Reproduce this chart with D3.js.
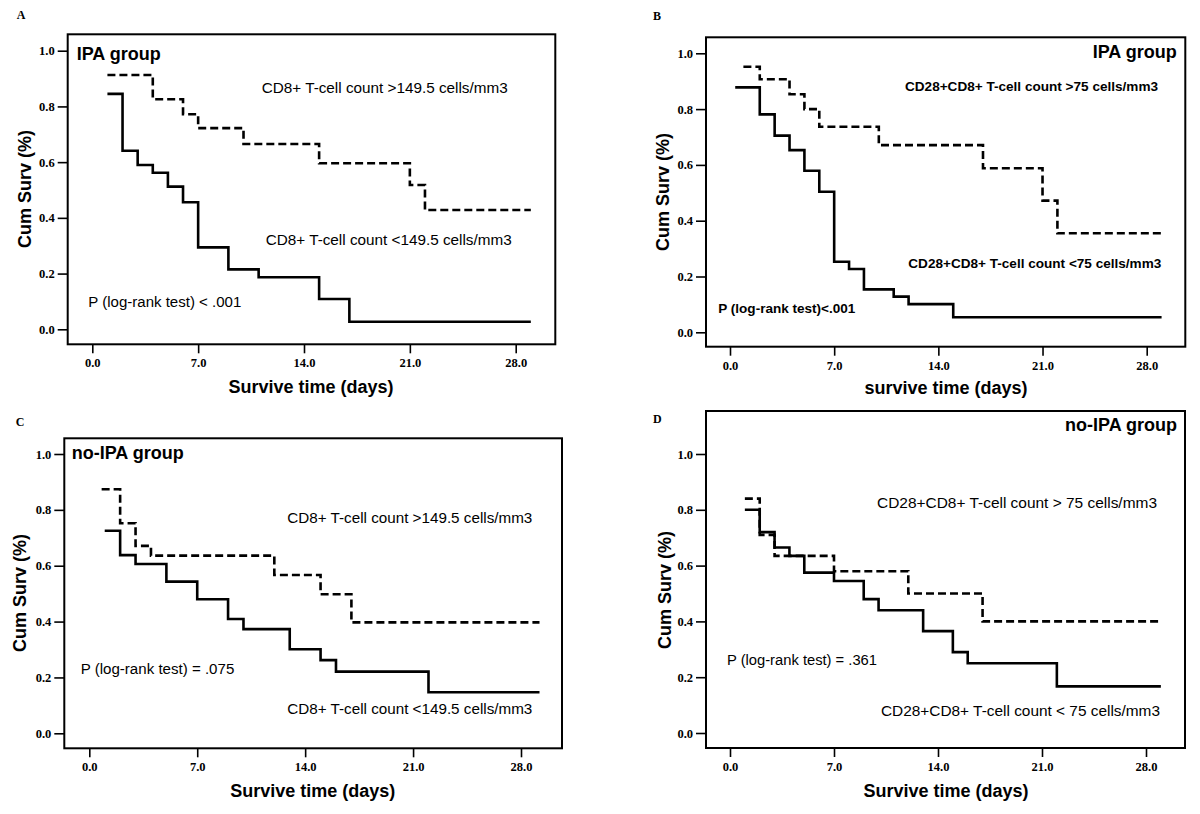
<!DOCTYPE html>
<html>
<head>
<meta charset="utf-8">
<script src="https://cdn.jsdelivr.net/npm/d3@7"></script>
<style>
  html, body { margin: 0; padding: 0; background: #fff; }
  svg { display: block; }
</style>
</head>
<body>
<svg id="chart" width="1200" height="814"></svg>
<script>
// ---------------- DATA ----------------
const xTickValues = [0, 7, 14, 21, 28];
const yTickValues = [0, 0.2, 0.4, 0.6, 0.8, 1.0];

// Panel A (IPA group, CD8+)
const aHighTime = [1, 4, 6, 7, 10, 15, 21, 22, 29];
const aHighSurv = [0.913, 0.826, 0.772, 0.722, 0.665, 0.596, 0.518, 0.428, 0.428];
const aLowTime  = [1, 2, 3, 4, 5, 6, 7, 9, 11, 15, 17, 29];
const aLowSurv  = [0.845, 0.641, 0.590, 0.562, 0.512, 0.456, 0.294, 0.215, 0.187, 0.109, 0.027, 0.027];

// Panel B (IPA group, CD28+CD8+)
const bHighTime = [0.9, 2, 4, 5, 6, 10, 17, 21, 22, 29];
const bHighSurv = [0.952, 0.907, 0.853, 0.800, 0.737, 0.671, 0.588, 0.472, 0.355, 0.355];
const bLowTime  = [0.35, 2, 3, 4, 5, 6, 7, 8, 9, 11, 12, 15, 29];
const bLowSurv  = [0.878, 0.781, 0.705, 0.653, 0.579, 0.504, 0.253, 0.227, 0.154, 0.128, 0.101, 0.054, 0.054];

// Panel C (no-IPA group, CD8+)
const cHighTime = [0.8, 2, 3, 4, 12, 15, 17, 29.2];
const cHighSurv = [0.874, 0.752, 0.671, 0.636, 0.567, 0.498, 0.397, 0.397];
const cLowTime  = [1, 2, 3, 5, 7, 9, 10, 13, 15, 16, 22, 29.2];
const cLowSurv  = [0.725, 0.638, 0.606, 0.543, 0.480, 0.409, 0.373, 0.301, 0.262, 0.221, 0.147, 0.147];

// Panel D (no-IPA group, CD28+CD8+)
const dHighTime = [1, 2, 3, 7, 12, 17, 29];
const dHighSurv = [0.84, 0.71, 0.635, 0.58, 0.50, 0.40, 0.40];
const dLowTime  = [1, 2, 3, 4, 5, 7, 9, 10, 13, 15, 16, 22, 29];
const dLowSurv  = [0.80, 0.72, 0.665, 0.635, 0.575, 0.545, 0.48, 0.44, 0.365, 0.29, 0.25, 0.167, 0.167];

// Texts
const panelLetters = ["A", "B", "C", "D"];
const groupTitles = ["IPA group", "IPA group", "no-IPA group", "no-IPA group"];
const highLabels = ["CD8+ T-cell count >149.5 cells/mm3", "CD28+CD8+ T-cell count >75 cells/mm3",
                    "CD8+ T-cell count >149.5 cells/mm3", "CD28+CD8+ T-cell count > 75 cells/mm3"];
const lowLabels  = ["CD8+ T-cell count <149.5 cells/mm3", "CD28+CD8+ T-cell count <75 cells/mm3",
                    "CD8+ T-cell count <149.5 cells/mm3", "CD28+CD8+ T-cell count < 75 cells/mm3"];
const pLabels = ["P (log-rank test) < .001", "P (log-rank test)<.001",
                 "P (log-rank test) = .075", "P (log-rank test) = .361"];
const xTitles = ["Survive time (days)", "survive time (days)", "Survive time (days)", "Survive time (days)"];
const yTitle = "Cum Surv (%)";

// ---------------- LAYOUT ----------------
const SANS = "'Liberation Sans', Arial, sans-serif";
const SERIF = "'Liberation Serif', 'Times New Roman', serif";

const panels = [
  { frame: [67.7, 34.3, 555.3, 344.3], x0: 92.3, x28: 515.7, y0: 329.3, y1: 50.7,
    letter: [16.7, 19], title: { x: 76.7, y: 60, anchor: "start" },
    hi: { x: 261.7, y: 93, w: 246 }, lo: { x: 265.7, y: 245, w: 246 }, p: { x: 88.3, y: 306.7, w: 153 },
    labelWeight: "normal", labelSize: 14,
    xt: { x: 311, y: 393 }, yt: { x: 31, y: 189 },
    high: [aHighTime, aHighSurv], low: [aLowTime, aLowSurv] },
  { frame: [706, 37.3, 1185.3, 346.7], x0: 730, x28: 1146.7, y0: 332.3, y1: 53.3,
    letter: [653, 20], title: { x: 1176.7, y: 58.3, anchor: "end" },
    hi: { x: 905, y: 90.7, w: 253 }, lo: { x: 908.3, y: 268.3, w: 253 }, p: { x: 718.3, y: 313.3, w: 137 },
    labelWeight: "bold", labelSize: 13,
    xt: { x: 946, y: 394 }, yt: { x: 669, y: 192 },
    high: [bHighTime, bHighSurv], low: [bLowTime, bLowSurv] },
  { frame: [64.3, 438.3, 562, 748.3], x0: 89.3, x28: 521, y0: 733.3, y1: 454,
    letter: [15.7, 425.7], title: { x: 71.7, y: 459.3, anchor: "start" },
    hi: { x: 287.3, y: 523.3, w: 245 }, lo: { x: 287.3, y: 714, w: 245 }, p: { x: 80.7, y: 674, w: 153.6 },
    labelWeight: "normal", labelSize: 14,
    xt: { x: 312.8, y: 797 }, yt: { x: 26, y: 593 },
    high: [cHighTime, cHighSurv], low: [cLowTime, cLowSurv] },
  { frame: [706, 411, 1185, 748], x0: 730, x28: 1146, y0: 733, y1: 454,
    letter: [653, 423], title: { x: 1177, y: 431, anchor: "end" },
    hi: { x: 877, y: 508, w: 280 }, lo: { x: 881, y: 716, w: 279 }, p: { x: 727, y: 665, w: 150 },
    labelWeight: "normal", labelSize: 14,
    xt: { x: 946, y: 797 }, yt: { x: 671, y: 590 },
    high: [dHighTime, dHighSurv], low: [dLowTime, dLowSurv] }
];

const svg = d3.select("#chart");

panels.forEach((P, i) => {
  const g = svg.append("g");
  const [fl, ft, fr, fb] = P.frame;
  const x = d3.scaleLinear().domain([0, 28]).range([P.x0, P.x28]);
  const y = d3.scaleLinear().domain([0, 1]).range([P.y0, P.y1]);

  // frame
  g.append("rect")
    .attr("x", fl).attr("y", ft).attr("width", fr - fl).attr("height", fb - ft)
    .attr("fill", "none").attr("stroke", "#000").attr("stroke-width", 2);

  // y axis
  const yAxis = g.append("g").attr("transform", `translate(${fl},0)`)
    .call(d3.axisLeft(y).tickValues(yTickValues).tickFormat(d3.format(".1f")).tickSize(10).tickPadding(3));
  yAxis.select(".domain").remove();
  yAxis.selectAll("line").attr("stroke", "#000").attr("stroke-width", 1.6);
  yAxis.selectAll("text").attr("font-family", SERIF).attr("font-weight", "bold")
    .attr("font-size", 12.5).attr("fill", "#000");

  // x axis
  const xAxis = g.append("g").attr("transform", `translate(0,${fb})`)
    .call(d3.axisBottom(x).tickValues(xTickValues).tickFormat(d3.format(".1f")).tickSize(9).tickPadding(5));
  xAxis.select(".domain").remove();
  xAxis.selectAll("line").attr("stroke", "#000").attr("stroke-width", 1.6);
  xAxis.selectAll("text").attr("font-family", SERIF).attr("font-weight", "bold")
    .attr("font-size", 12.5).attr("fill", "#000");

  // curves
  const line = d3.line().x(d => x(d[0])).y(d => y(d[1])).curve(d3.curveStepAfter);
  const hiPts = P.high[0].map((t, k) => [t, P.high[1][k]]);
  const loPts = P.low[0].map((t, k) => [t, P.low[1][k]]);
  g.append("path").datum(loPts).attr("d", line)
    .attr("fill", "none").attr("stroke", "#000").attr("stroke-width", 2.6);
  g.append("path").datum(hiPts).attr("d", line)
    .attr("fill", "none").attr("stroke", "#000").attr("stroke-width", 2.6)
    .attr("stroke-dasharray", "8,4");

  // panel letter
  g.append("text").attr("x", P.letter[0]).attr("y", P.letter[1])
    .attr("font-family", SERIF).attr("font-weight", "bold").attr("font-size", 12)
    .text(panelLetters[i]);

  // group title
  g.append("text").attr("x", P.title.x).attr("y", P.title.y).attr("text-anchor", P.title.anchor)
    .attr("font-family", SANS).attr("font-weight", "bold").attr("font-size", 18)
    .text(groupTitles[i]);

  // series labels
  [[P.hi, highLabels[i]], [P.lo, lowLabels[i]], [P.p, pLabels[i]]].forEach(([pos, txt]) => {
    g.append("text").attr("x", pos.x).attr("y", pos.y)
      .attr("font-family", SANS).attr("font-weight", P.labelWeight).attr("font-size", P.labelSize)
      .attr("textLength", pos.w).attr("lengthAdjust", "spacingAndGlyphs")
      .text(txt);
  });

  // axis titles
  g.append("text").attr("x", P.xt.x).attr("y", P.xt.y).attr("text-anchor", "middle")
    .attr("font-family", SANS).attr("font-weight", "bold").attr("font-size", 18)
    .text(xTitles[i]);
  g.append("text").attr("transform", `translate(${P.yt.x},${P.yt.y}) rotate(-90)`)
    .attr("text-anchor", "middle")
    .attr("font-family", SANS).attr("font-weight", "bold").attr("font-size", 18)
    .text(yTitle);
});
</script>
</body>
</html>
